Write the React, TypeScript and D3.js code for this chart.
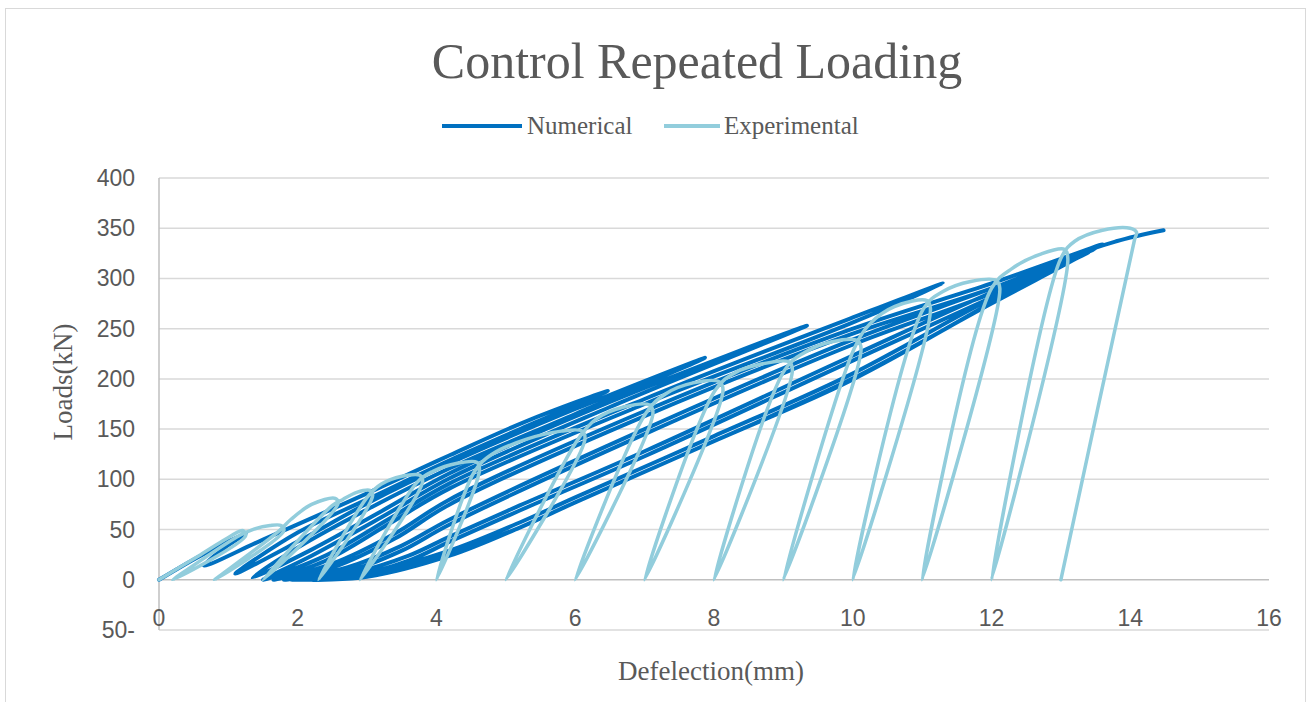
import { useMemo } from "react";
import * as d3 from "d3";

// Numerical FE result (deflection mm, load kN)
const numericalDeflection = [
  0, 0.6, 1.25, 0.95, 0.65,
  1.5, 3.0, 4.19, 5.3, 6.47, 5.3, 4.19, 3.0, 2.0, 1.1,
  2.0, 3.0, 4.19, 6.0, 7.87, 6.0, 4.19, 3.0, 2.0, 1.35,
  2.2, 3.2, 4.19, 6.5, 9.34, 6.5, 4.19, 3.2, 2.2, 1.5,
  2.4, 3.3, 4.19, 7.0, 9.96, 11.3, 9.96, 7.0, 4.19, 3.3, 2.4, 1.65,
  2.5, 3.4, 4.19, 7.0, 9.96, 12.0, 13.6, 12.0, 9.96, 7.0, 4.19, 3.4, 2.5, 1.8,
  2.7, 3.5, 4.19, 7.0, 9.96, 12.0, 13.5, 12.0, 9.96, 7.0, 4.19, 3.5, 2.7, 1.9,
  2.8, 3.6, 4.19, 5.2, 7.0, 9.96, 12.0, 13.4, 12.0, 9.96, 7.0, 5.2, 4.19, 3.6, 2.8, 2.0,
  3.0, 4.19, 5.2, 6.0, 8.0, 9.96, 12.0, 13.3, 12.0, 9.96, 8.0, 6.0, 5.2, 4.19, 3.0, 2.2,
  3.1, 4.19, 5.2, 6.0, 8.0, 9.96, 12.0, 13.1, 13.8, 14.48,
];
const numericalLoad = [
  0, 24, 46, 32, 14,
  40, 86, 124, 158, 188, 153, 119, 80, 47, 6,
  38, 76, 116, 170, 221, 165, 111, 70, 32, 2,
  30, 68, 106, 177, 253, 172, 101, 62, 24, 0,
  24, 60, 96, 180, 260, 295, 255, 175, 91, 55, 19, 0,
  16, 46, 80, 168, 249, 295, 334, 290, 244, 163, 75, 41, 12, 0,
  12, 34, 60, 150, 238, 290, 330, 285, 233, 145, 55, 29, 8, 0,
  7, 24, 43, 74, 128, 222, 286, 326, 281, 217, 123, 69, 38, 19, 4, 0,
  7, 29, 57, 82, 143, 204, 280, 323, 275, 199, 138, 77, 52, 24, 3, 0,
  6, 26, 52, 77, 138, 198, 276, 320, 337, 348,
];

// Experimental test result
const experimentalDeflection = [
  0, 0.6, 1.15, 1.21, 1.25, 0.2,
  1.16, 1.35, 1.6, 1.76, 1.8, 0.8,
  1.72, 1.9, 2.2, 2.54, 2.58, 1.5,
  2.5, 2.65, 2.85, 3.04, 3.08, 2.3,
  3.0, 3.2, 3.5, 3.76, 3.8, 2.9,
  3.72, 3.95, 4.3, 4.58, 4.62, 4.0,
  4.55, 4.8, 5.3, 5.8, 6.1, 6.14, 5.0,
  6.04, 6.3, 6.7, 7.07, 7.12, 6.0,
  7.02, 7.3, 7.7, 8.08, 8.13, 7.0,
  8.02, 8.3, 8.7, 9.08, 9.13, 8.0,
  9.02, 9.3, 9.7, 10.07, 10.12, 9.0,
  10.02, 10.25, 10.6, 11.07, 11.12, 10.0,
  11.02, 11.3, 11.7, 12.07, 12.12, 11.0,
  12.0, 12.3, 12.7, 13.05, 13.1, 12.0,
  13.0, 13.2, 13.6, 14.0, 14.09, 14.06, 13.0,
];
const experimentalLoad = [
  0, 25, 48, 49, 44, 0,
  44, 50, 54, 54, 49, 0,
  48, 60, 75, 81, 76, 0,
  74, 80, 87, 89, 84, 0,
  82, 95, 103, 104, 98, 0,
  97, 108, 116, 117, 110, 0,
  108, 125, 140, 148, 148, 140, 0,
  140, 160, 172, 174, 166, 0,
  166, 185, 196, 197, 189, 0,
  189, 206, 215, 217, 209, 0,
  209, 226, 237, 238, 230, 0,
  230, 255, 272, 278, 270, 0,
  270, 287, 297, 298, 290, 0,
  290, 310, 324, 329, 320, 0,
  320, 337, 348, 350, 346, 338, 0,
];

const xTicks = [0, 2, 4, 6, 8, 10, 12, 14, 16];
const yTicks = [-50, 0, 50, 100, 150, 200, 250, 300, 350, 400];

const NUM_COLOR = "#0070C0";
const EXP_COLOR = "#92CDDC";
const TEXT = "#595959";
const SERIF = "'Liberation Serif', serif";
const SANS = "'Liberation Sans', Arial, sans-serif";

export default function App() {
  const width = 1312;
  const height = 702;

  const x = d3.scaleLinear().domain([0, 16]).range([159, 1269]);
  const y = d3.scaleLinear().domain([-50, 400]).range([630, 178]);

  const line = d3
    .line<[number, number]>()
    .x((d) => x(d[0]))
    .y((d) => y(d[1]))
    .curve(d3.curveCatmullRom.alpha(0.5));

  const numPath = useMemo(
    () => line(numericalDeflection.map((d, i) => [d, numericalLoad[i]] as [number, number])),
    []
  );
  const expPath = useMemo(
    () => line(experimentalDeflection.map((d, i) => [d, experimentalLoad[i]] as [number, number])),
    []
  );

  // the source renders the negative tick right-to-left
  const yLabel = (v: number) => (v < 0 ? `${Math.abs(v)}-` : `${v}`);

  return (
    <div style={{ position: "fixed", left: 0, top: 0 }}>
      <svg width={width} height={height} style={{ display: "block", background: "#fff" }}>
        <rect x={5.5} y={8.5} width={1300} height={710} fill="#fff" stroke="#d9d9d9" />

        <text x={697} y={78} textAnchor="middle" fontFamily={SERIF} fontSize={50} fill={TEXT}>
          Control Repeated Loading
        </text>

        {/* legend */}
        <line x1={442} x2={522} y1={126} y2={126} stroke={NUM_COLOR} strokeWidth={4} />
        <text x={527} y={134} fontFamily={SERIF} fontSize={25} fill={TEXT}>Numerical</text>
        <line x1={664} x2={720} y1={126} y2={126} stroke={EXP_COLOR} strokeWidth={4} />
        <text x={724} y={134} fontFamily={SERIF} fontSize={25} fill={TEXT}>Experimental</text>

        {/* grid */}
        {yTicks.map((t) => (
          <line
            key={t}
            x1={x(0)}
            x2={x(16)}
            y1={y(t)}
            y2={y(t)}
            stroke={t === 0 ? "#bfbfbf" : "#d9d9d9"}
            strokeWidth={1.5}
          />
        ))}
        <line x1={x(0)} x2={x(0)} y1={y(400)} y2={y(-50)} stroke="#bfbfbf" strokeWidth={1.5} />

        {yTicks.map((t) => (
          <text
            key={t}
            x={135}
            y={y(t)}
            dy="0.35em"
            textAnchor="end"
            fontFamily={SANS}
            fontSize={23}
            fill={TEXT}
          >
            {yLabel(t)}
          </text>
        ))}
        {xTicks.map((t) => (
          <text
            key={t}
            x={x(t)}
            y={618}
            dy="0.35em"
            textAnchor="middle"
            fontFamily={SANS}
            fontSize={23}
            fill={TEXT}
          >
            {t}
          </text>
        ))}

        <path d={numPath ?? ""} fill="none" stroke={NUM_COLOR} strokeWidth={4} strokeLinejoin="round" strokeLinecap="round" />
        <path d={expPath ?? ""} fill="none" stroke={EXP_COLOR} strokeWidth={3.5} strokeLinejoin="round" strokeLinecap="round" />

        <text
          transform={`translate(72,382) rotate(-90)`}
          textAnchor="middle"
          fontFamily={SERIF}
          fontSize={27}
          fill={TEXT}
        >
          Loads(kN)
        </text>
        <text x={711} y={680} textAnchor="middle" fontFamily={SERIF} fontSize={27} fill={TEXT}>
          Defelection(mm)
        </text>
      </svg>
    </div>
  );
}
